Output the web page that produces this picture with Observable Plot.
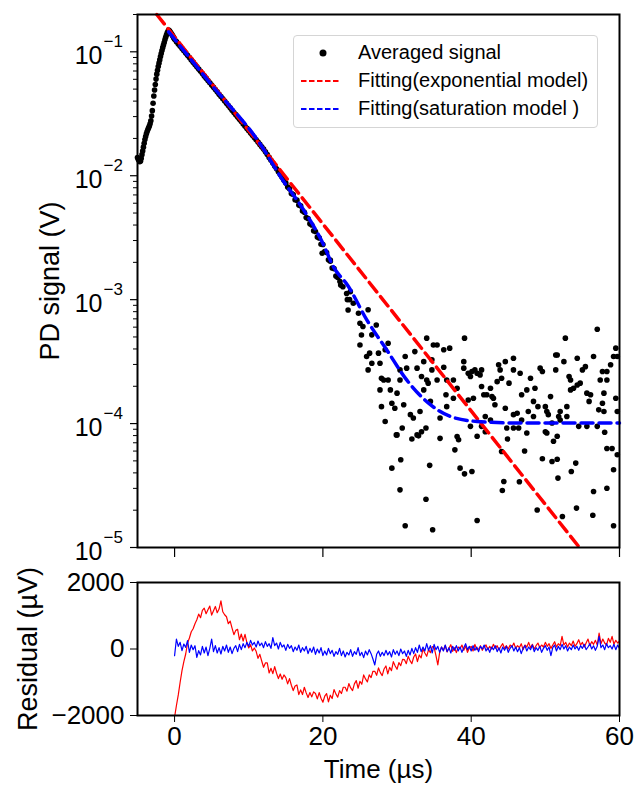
<!DOCTYPE html>
<html><head><meta charset="utf-8">
<script src="https://cdn.jsdelivr.net/npm/d3@7"></script>
<script src="https://cdn.jsdelivr.net/npm/@observablehq/plot@0.6"></script>
<style>
body{margin:0;background:#fff;font-family:"Liberation Sans",Arial,sans-serif}
svg{display:block}
#wrap{position:relative;width:636px;height:785px}
#legend{position:absolute;left:293px;top:35px;width:305px;height:93px;border:1px solid #d5d5d5;border-radius:4px;background:rgba(255,255,255,0.85);box-sizing:border-box}
.row{position:absolute;left:0;height:28px;display:flex;align-items:center;font-size:20px;color:#000;white-space:nowrap}
</style>
</head><body>
<div id="wrap"><div id="top"></div><div id="bottom"></div><div id="legend"></div></div>
<script>
// ---- averaged signal: rising edge, t = -5.0 .. -0.1 (step 0.1 µs), V
const riseV = [0.0140,0.0136,0.0133,0.0130,0.0131,0.0138,0.0148,0.0158,0.0170,0.0183,
 0.0196,0.0207,0.0218,0.0227,0.0236,0.0244,0.0252,0.0263,0.0278,0.0303,
 0.0335,0.0385,0.0440,0.0492,0.0545,0.0602,0.0660,0.0710,0.0760,0.0810,
 0.0860,0.0915,0.0970,0.1025,0.108,0.1135,0.119,0.125,0.131,0.1365,
 0.142,0.146,0.150,0.1475,0.145,0.142,0.139,0.136,0.133,0.1295];
// ---- averaged signal: decay, t = 0 .. 22 (step 0.25 µs), V
const decayV = [0.126,0.1208,0.1158,0.111, 0.1064,0.102,0.0977,0.0937, 0.0898,0.086,0.0825,0.079,
 0.0757,0.0726,0.0696,0.0667, 0.0639,0.0613,0.0587,0.0563, 0.054,0.0517,0.0496,0.0475,
 0.0455,0.0436,0.0418,0.0401, 0.0384,0.0368,0.0353,0.0338, 0.0324,0.0311,0.0298,0.0285,
 0.0274,0.0262,0.0251,0.0241, 0.0231,0.0221,0.0212,0.0203, 0.0195,0.0187,0.0179,0.0171,
 0.0164,0.01563,0.01483,0.01406, 0.01334,0.01265,0.0120,0.01138, 0.01079,0.01023,0.0097,0.0092,
 0.00873,0.0081,0.00785,0.0072, 0.00706,0.0064,0.00635,0.0058, 0.00571,0.0052,0.00508,0.0046,
 0.00451,0.0041,0.0040,0.0036, 0.00355,0.0032,0.00315,0.0028, 0.00279,0.00245,0.0024,0.0021,
 0.00204,0.0018,0.00178,0.00155, 0.00151];
// ---- averaged signal: noisy tail points [t (µs), V]
const noisyPts = [
 [19.9,2.37e-3],[21.0,2.09e-3],[22.4,1.31e-3],[23.7,1.16e-3],[23.3,1.0e-3],
 [22.3,1.40e-3],[22.7,1.27e-3],[23.2,1.12e-3],[23.6,1.0e-3],[24.1,9.35e-4],[23.4,8.26e-4],[24.8,7.76e-4],[26.1,8.3e-4],
 [25.0,6.45e-4],[25.4,6.07e-4],[25.2,5.19e-4],[26.6,5.2e-4],[27.2,6.25e-4],[25.0,4.31e-4],[25.9,3.48e-4],[26.3,3.70e-4],
 [27.5,3.7e-4],[26.6,3.07e-4],[27.7,3.07e-4],[26.1,2.71e-4],[28.8,4.45e-4],[28.4,3.94e-4],[27.9,2.32e-4],[28.2,2.25e-4],
 [28.8,2.25e-4],[27.7,1.87e-4],[29.1,1.87e-4],[30.0,1.76e-4],[27.9,1.37e-4],[28.4,1.04e-4],[29.3,1.46e-4],[29.7,1.33e-4],
 [30.4,2.71e-4],[31.1,3.48e-4],[31.3,2.80e-4],[30.4,2.25e-4],[30.9,1.42e-4],[31.8,1.18e-4],[32.2,1.11e-4],[30.0,8.1e-5],
 [30.7,9.2e-5],[32.0,7.5e-5],[32.9,7.96e-5],[33.3,8.6e-5],[33.9,9.2e-5],[32.4,3.81e-4],[32.7,2.80e-4],[34.0,4.89e-4],
 [33.6,3.16e-4],[33.3,2.40e-4],[34.0,2.25e-4],[34.2,2.12e-4],[33.6,1.87e-4],[34.7,2.71e-4],[34.9,4.31e-4],[35.4,4.31e-4],
 [34.7,3.27e-4],[34.5,1.51e-4],[33.1,1.25e-4],[35.8,1.11e-4],[36.3,3.94e-4],[37.1,4.06e-4],[36.3,2.85e-4],[35.4,2.25e-4],
 [36.7,2.25e-4],[37.6,2.25e-4],[36.6,1.71e-4],[37.6,1.60e-4],[36.7,1.37e-4],[38.1,1.93e-4],[39.1,4.89e-4],[39.0,3.16e-4],
 [39.0,2.80e-4],[39.6,2.55e-4],[40.1,2.63e-4],[39.9,2.40e-4],[40.5,2.71e-4],[40.3,1.60e-4],[39.6,1.55e-4],[40.8,2.55e-4],
 [41.2,2.47e-4],[41.4,2.71e-4],[38.1,7.87e-5],[38.3,7.4e-5],[37.8,6.14e-5],[40.8,7.9e-5],[41.4,9.5e-5],[41.9,8.6e-5],
 [41.4,1.99e-4],[41.7,1.71e-4],[42.1,1.71e-4],[42.6,1.93e-4],[42.8,1.65e-4],[43.0,1.60e-4],[43.2,1.42e-4],[42.6,1.07e-4],
 [41.9,1.14e-4],[39.9,9.5e-5],[43.5,2.18e-4],[43.7,2.98e-4],[43.9,2.71e-4],[44.6,3.16e-4],[45.7,3.37e-4],[44.1,2.32e-4],
 [45.1,2.12e-4],[45.7,2.71e-4],[46.6,2.55e-4],[46.8,1.71e-4],[47.5,1.87e-4],[48.0,2.32e-4],[48.6,1.93e-4],[48.4,1.51e-4],
 [44.6,1.33e-4],[45.7,1.18e-4],[46.2,1.21e-4],[46.8,1.07e-4],[47.7,1.25e-4],[48.4,1.14e-4],[44.8,9.2e-5],[45.7,9.2e-5],
 [46.4,9.2e-5],[47.5,8.4e-5],[49.0,1.37e-4],[49.3,2.80e-4],[49.6,2.63e-4],[50.0,1.37e-4],[50.2,1.25e-4],[50.4,1.18e-4],
 [50.7,1.65e-4],[50.9,1.01e-4],[51.4,3.58e-4],[51.6,3.58e-4],[51.4,2.71e-4],[52.5,3.16e-4],[52.7,4.89e-4],[53.2,2.40e-4],
 [53.4,2.25e-4],[53.4,1.87e-4],[53.8,1.93e-4],[54.3,2.05e-4],[54.7,2.12e-4],[55.0,2.71e-4],[55.4,2.88e-4],[52.9,1.37e-4],
 [52.9,1.14e-4],[52.0,1.25e-4],[51.8,1.14e-4],[52.0,1.07e-4],[51.6,7.9e-5],[51.1,7.2e-5],[50.2,8.4e-5],[50.0,8.6e-5],
 [54.3,3.37e-4],[55.6,1.76e-4],[56.1,1.71e-4],[55.9,1.51e-4],[56.5,3.48e-4],[57.0,5.77e-4],[57.4,2.25e-4],[57.7,2.63e-4],
 [57.9,1.76e-4],[57.7,1.46e-4],[57.9,1.25e-4],[57.2,1.29e-4],[58.3,2.25e-4],[58.3,2.63e-4],[58.8,2.98e-4],[59.2,3.48e-4],
 [59.5,4.06e-4],[59.7,3.48e-4],[59.5,1.60e-4],[59.7,1.25e-4],[54.5,9.5e-5],[55.6,9.5e-5],[57.0,9.5e-5],[58.0,8.5e-5],
 [58.3,6.3e-5],[59.0,6.3e-5],[59.7,5.6e-5],[59.2,4.24e-5],[58.3,3.01e-5],[56.5,2.83e-5],[56.4,1.82e-5],[59.2,1.50e-5],
 [54.2,2.08e-5],[52.3,1.78e-5],[48.9,2.01e-5],[51.7,3.63e-5],[53.5,4.1e-5],[54.1,4.8e-5],[50.9,4.94e-5],[51.6,5.16e-5],
 [49.6,5.2e-5],[47.2,6.0e-5],[46.5,3.39e-5],[44.4,3.41e-5],[44.2,2.88e-5],[44.1,5.96e-5],[44.9,7.5e-5],[40.8,1.65e-5],
 [40.1,4.1e-5],[39.1,3.93e-5],[38.5,4.37e-5],[35.8,7.6e-5],[34.4,4.6e-5],[33.9,2.45e-5],[34.8,1.39e-5],[31.1,1.50e-5],
 [30.4,2.92e-5],[29.3,4.37e-5],[30.5,5.1e-5],[29.9,8.1e-5],[32.7,8.1e-5]
];
// ---- fits
const expFitT = [-2.4, 54.6];
const expFitV = [0.2, 1.0e-5];
const satFitT = [-0.8, 5, 11.5, 14.6, 17.4, 20, 21.4, 23.4, 25.9, 28.6, 31.3, 34.5, 37.2, 40.8, 46.2, 60];
const satFitV = [0.145, 0.054, 0.0182, 0.0092, 0.0053, 0.00285, 0.00185, 0.00129, 6.9e-4, 3.94e-4, 2.25e-4, 1.42e-4, 1.14e-4, 1.04e-4, 1.01e-4, 1.01e-4];
// ---- residuals (µV), t = 0 .. 60, step 0.25 µs
const resStep = 0.25;
const resExp = [
 -2050,-1700,-1380,-1000, -650,-380,-150,180, 330,520,610,760, 880,1050,940,1160,
 1230,1060,1180,1290, 1020,1150,1280,1090, 1200,1450,1120,1030, 970,760,840,630,
 430,560,590,280, 450,240,440,190, 30,130,-60,30, -70,-280,-160,-360,
 -550,-420,-420,-720, -580,-740,-530,-730, -890,-750,-910,-780, -860,-1050,-890,-1090,
 -1250,-1110,-1080,-1370, -1230,-1370,-1150,-1320, -1460,-1310,-1440,-1290, -1340,-1500,-1310,-1480,
 -1600,-1420,-1340,-1590, -1390,-1490,-1220,-1350, -1450,-1250,-1340,-1150, -1150,-1270,-1040,-1170,
 -1250,-1050,-950,-1180, -970,-1060,-780,-900, -990,-780,-860,-670, -670,-790,-570,-710,
 -800,-600,-510,-750, -550,-650,-380,-510, -610,-410,-500,-310, -320,-440,-220,-350,
 -440,-240,-150,-380, -180,-270,0,-120, -220,-20,-110,70, 50,-200,-480,-100,
 60,-40,110,-90, 20,130,-70,40, -110,60,10,120, -40,90,-100,30,
 80,-60,140,-20, 0,100,-40,60, 120,-20,80,0, 140,20,100,-30,
 80,160,20,100, 0,120,60,180, 20,100,40,160, -20,120,60,200,
 40,140,0,100, 180,40,120,60, 200,80,160,20, 120,220,60,160,
 100,380,120,200, 60,180,100,240, 80,160,280,120, 200,60,180,300,
 100,220,140,260, 120,480,160,300, 180,120,320,200, 380,140,260,180, 240];
const resSat = [
 -200,300,80,200, -50,150,50,250, -100,120,-20,100, -250,-50,-180,80,
 -120,60,-200,20, 300,-80,100,-120, 40,-150,80,-60, 120,-100,60,-140,
 20,100,-80,140, -20,160,40,200, 80,260,120,200, 60,240,100,180,
 40,220,80,160, 20,340,100,180, 0,200,60,120, -40,140,20,100,
 -80,60,-40,120, -100,40,-60,80, -140,20,-100,60, -160,0,-120,40,
 -200,-60,-180,20, -140,-40,-220,-80, -160,20,-200,-60, -240,-100,-180,-20,
 -220,-80,-160,40, -200,-100,-260,-60, -180,-20,-140,-300, -480,-160,-60,-220,
 -100,-200,-40,-180, -80,-240,-20,-160, -60,-200,0,-140, -60,-220,-40,-180,
 20,-140,40,-100, 120,-80,60,-60, 160,-40,100,-120, 140,-20,80,-100,
 60,-60,120,-80, 40,-120,80,-40, 100,-60,60,-100, 40,160,-20,80,
 -60,100,-40,60, -80,80,0,120, -60,40,-100,60, -20,100,-80,40,
 -120,60,-40,80, -100,20,100,-60, 60,-80,40,-140, 20,100,-60,60,
 -20,120,-80,40, -40,80,-100,20, 100,-40,60,-200, 40,120,-60,80,
 -20,140,0,100, -60,60,-20,120, 0,80,-40,100, 20,140,-20,60,
 160,0,100,-40, 80,380,40,120, -20,160,40,100, 0,140,-20,120, 20];
// ---- axes / legend text
const xTicks = [0, 20, 40, 60];
const yMajor = [1e-5, 1e-4, 1e-3, 1e-2, 1e-1];
const resTicks = [-2000, 0, 2000];
const yLabelTop = "PD signal (V)";
const yLabelBottom = "Residual (µV)";
const xLabel = "Time (µs)";
const legendLabels = ["Averaged signal", "Fitting(exponential model)", "Fitting(saturation model )"];

const RED = "#ff0000", BLUE = "#0000ff";
const FONT = "Liberation Sans, Arial, sans-serif";

const signal = [
  ...riseV.map((v, i) => ({t: -5 + i * 0.1, v})),
  ...decayV.map((v, i) => ({t: i * 0.25, v})),
  ...noisyPts.map(([t, v]) => ({t, v}))
];
const expFit = expFitT.map((t, i) => ({t, v: expFitV[i]}));
const satFit = satFitT.map((t, i) => ({t, v: satFitV[i]}));
const resE = resExp.map((r, i) => ({t: i * resStep, r}));
const resS = resSat.map((r, i) => ({t: i * resStep, r}));

const yMinor = [];
for (let k = -5; k <= -1; k++) for (let m = 2; m <= 9; m++) { const v = m * 10 ** k; if (v <= 0.2) yMinor.push(v); }
const supMinus = d => "\u2212" + Math.round(-Math.log10(d));

const topPlot = Plot.plot({
  width: 636, height: 560, marginTop: 14, marginBottom: 13, marginLeft: 137, marginRight: 17,
  style: {fontFamily: FONT, background: "white", color: "black", overflow: "visible"},
  x: {domain: [-5, 60], axis: null},
  y: {type: "log", domain: [1e-5, 0.2], axis: null},
  marks: [
    Plot.axisY(yMinor, {tickSize: 4, tickFormat: () => "", label: null, strokeWidth: 1}),
    Plot.axisY(yMajor, {tickSize: 7, tickFormat: () => "", label: null, strokeWidth: 1.2}),
    Plot.text(yMajor, {x: -5, y: d => d, text: () => "10", textAnchor: "end", lineAnchor: "middle", dx: -35, dy: 4, fontSize: 25}),
    Plot.text(yMajor, {x: -5, y: d => d, text: supMinus, textAnchor: "start", lineAnchor: "middle", dx: -34, dy: -10, fontSize: 17}),
    Plot.axisX(xTicks, {tickSize: 10, tickFormat: () => "", label: null, strokeWidth: 1.2}),
    Plot.text([yLabelTop], {frameAnchor: "left", rotate: -90, textAnchor: "middle", lineAnchor: "middle", dx: -87, fontSize: 27}),
    Plot.dot(signal, {x: "t", y: "v", r: 2.8, fill: "black", stroke: null}),
    Plot.line(expFit, {x: "t", y: "v", stroke: RED, strokeWidth: 3.5, strokeDasharray: "12,6"}),
    Plot.line(satFit, {x: "t", y: "v", stroke: BLUE, strokeWidth: 3.5, strokeDasharray: "12,6", curve: "monotone-x"}),
    Plot.frame({stroke: "black", strokeWidth: 2})
  ]
});
document.getElementById("top").append(topPlot);

const bottomPlot = Plot.plot({
  width: 636, height: 225, marginTop: 22, marginBottom: 70, marginLeft: 137, marginRight: 17,
  style: {fontFamily: FONT, background: "white", color: "black", overflow: "visible"},
  x: {domain: [-5, 60], axis: null},
  y: {domain: [-2000, 2000], axis: null},
  marks: [
    Plot.axisY(resTicks, {tickSize: 7, tickPadding: 6, fontSize: 26, label: null,
      tickFormat: d => d === 0 ? "0" : (d < 0 ? "\u2212" : "") + Math.abs(d)}),
    Plot.axisX(xTicks, {tickSize: 7, tickPadding: 4, fontSize: 26, label: null, tickFormat: d => String(d)}),
    Plot.text([yLabelBottom], {frameAnchor: "left", rotate: -90, textAnchor: "middle", lineAnchor: "middle", dx: -109, fontSize: 27}),
    Plot.text([xLabel], {frameAnchor: "bottom", textAnchor: "middle", lineAnchor: "middle", dy: 54, fontSize: 26}),
    Plot.line(resE, {x: "t", y: "r", stroke: RED, strokeWidth: 1.2, clip: true}),
    Plot.line(resS, {x: "t", y: "r", stroke: BLUE, strokeWidth: 1.2, clip: true}),
    Plot.frame({stroke: "black", strokeWidth: 2})
  ]
});
document.getElementById("bottom").append(bottomPlot);

// legend (HTML overlay)
const legend = document.getElementById("legend");
const swatches = [
  `<circle cx="29" cy="14" r="3.5" fill="black"/>`,
  `<line x1="7" x2="47" y1="14" y2="14" stroke="${RED}" stroke-width="1.8" stroke-dasharray="5.5,2.5"/>`,
  `<line x1="7" x2="47" y1="14" y2="14" stroke="${BLUE}" stroke-width="1.8" stroke-dasharray="5.5,2.5"/>`
];
const rowCenters = [16.5, 44.5, 72.5];
legendLabels.forEach((lab, i) => {
  const row = document.createElement("div");
  row.className = "row";
  row.style.top = (rowCenters[i] - 14) + "px";
  row.innerHTML = `<svg width="64" height="28" style="display:block">${swatches[i]}</svg><span>${lab}</span>`;
  legend.append(row);
});
</script>
</body></html>
